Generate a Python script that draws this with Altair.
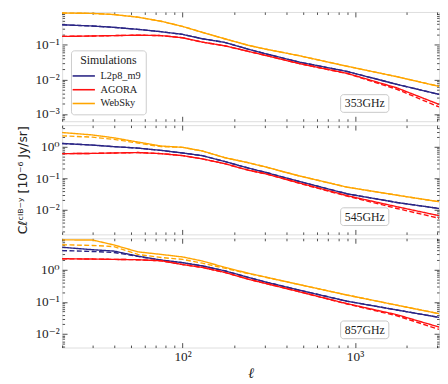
import altair as alt
import pandas as pd

# ---- data ----
ELL = [20, 30, 40, 55, 75, 100, 130, 175, 240, 300, 470, 900, 1750, 3072]
SIMS = ["L2p8_m9", "AGORA", "WebSky"]
COLORS = ["#2a2585", "#ff1010", "#ffa500"]
FREQS = ["353GHz", "545GHz", "857GHz"]

# 353 GHz
L2P8_353 = [0.38, 0.35, 0.32, 0.28, 0.24, 0.20, 0.15, 0.118, 0.075, 0.056, 0.032, 0.017, 0.0072, 0.0037]
AGORA_353 = [0.175, 0.18, 0.185, 0.19, 0.185, 0.16, 0.12, 0.094, 0.065, 0.05, 0.029, 0.015, 0.0057, 0.0019]
WEBSKY_353 = [0.83, 0.81, 0.75, 0.63, 0.48, 0.34, 0.23, 0.15, 0.097, 0.076, 0.049, 0.024, 0.012, 0.0063]
L2P8_353_D = L2P8_353
AGORA_353_D = [0.175, 0.18, 0.185, 0.19, 0.185, 0.16, 0.12, 0.094, 0.065, 0.05, 0.029, 0.0148, 0.0052, 0.0016]
WEBSKY_353_D = WEBSKY_353

# 545 GHz
L2P8_545 = [1.26, 1.12, 1.0, 0.9, 0.76, 0.63, 0.52, 0.34, 0.21, 0.155, 0.08, 0.032, 0.017, 0.011]
AGORA_545 = [0.6, 0.61, 0.63, 0.65, 0.6, 0.52, 0.41, 0.29, 0.18, 0.14, 0.072, 0.028, 0.0125, 0.0065]
WEBSKY_545 = [2.8, 2.35, 1.9, 1.4, 1.05, 0.95, 0.73, 0.45, 0.31, 0.23, 0.12, 0.052, 0.029, 0.018]
L2P8_545_D = L2P8_545
AGORA_545_D = [0.6, 0.61, 0.63, 0.65, 0.6, 0.52, 0.41, 0.29, 0.18, 0.14, 0.07, 0.027, 0.011, 0.0054]
WEBSKY_545_D = [2.2, 2.0, 1.7, 1.3, 1.0, 0.95, 0.73, 0.45, 0.31, 0.23, 0.12, 0.052, 0.029, 0.018]

# 857 GHz
L2P8_857 = [5.0, 4.2, 3.8, 2.65, 2.0, 1.66, 1.32, 0.93, 0.58, 0.42, 0.235, 0.105, 0.056, 0.033]
AGORA_857 = [2.2, 2.15, 2.1, 2.05, 1.9, 1.45, 1.18, 0.83, 0.51, 0.38, 0.21, 0.088, 0.04, 0.0165]
WEBSKY_857 = [8.5, 8.4, 5.9, 3.6, 3.0, 2.5, 1.87, 1.2, 0.78, 0.6, 0.35, 0.163, 0.079, 0.043]
L2P8_857_D = [3.95, 3.7, 3.45, 2.6, 2.0, 1.66, 1.32, 0.93, 0.58, 0.42, 0.235, 0.105, 0.056, 0.033]
AGORA_857_D = [2.2, 2.15, 2.1, 2.05, 1.9, 1.45, 1.18, 0.83, 0.51, 0.38, 0.21, 0.086, 0.037, 0.014]
WEBSKY_857_D = [6.0, 5.7, 5.25, 3.0, 2.4, 2.1, 1.6, 1.12, 0.76, 0.59, 0.35, 0.163, 0.079, 0.043]

Y_DOMAINS = {"353GHz": [6.2e-4, 0.89], "545GHz": [1.66e-3, 4.8], "857GHz": [3.8e-3, 9.5]}
X_DOMAIN = [20, 3072]

SERIES = {
    "353GHz": {"L2p8_m9": (L2P8_353, L2P8_353_D), "AGORA": (AGORA_353, AGORA_353_D), "WebSky": (WEBSKY_353, WEBSKY_353_D)},
    "545GHz": {"L2p8_m9": (L2P8_545, L2P8_545_D), "AGORA": (AGORA_545, AGORA_545_D), "WebSky": (WEBSKY_545, WEBSKY_545_D)},
    "857GHz": {"L2p8_m9": (L2P8_857, L2P8_857_D), "AGORA": (AGORA_857, AGORA_857_D), "WebSky": (WEBSKY_857, WEBSKY_857_D)},
}

rows = []
for f, sims in SERIES.items():
    for s, (solid, dashed) in sims.items():
        for kind, vals in (("a_solid", solid), ("b_dashed", dashed)):
            for l, v in zip(ELL, vals):
                rows.append({"freq": f, "sim": s, "kind": kind, "ell": l, "cl": v})
df = pd.DataFrame(rows)

SERIF = "Liberation Serif, DejaVu Serif, serif"
INK = "#222222"
W, H = 383, 111

def log_ticks(lo, hi):
    out = []
    for k in range(-5, 5):
        for m in range(1, 10):
            v = m * 10.0 ** k
            if lo <= v <= hi:
                out.append(float(f"{v:.6g}"))
    return out

E = "round(log(datum.value)/LN10)"
IS_MAJOR = f"abs(log(datum.value)/LN10 - {E}) < 0.001"
SUP = ("(" + E + " == -3 ? '⁻³' : " + E + " == -2 ? '⁻²' : " + E + " == -1 ? '⁻¹' : "
       + E + " == 0 ? '⁰' : " + E + " == 1 ? '¹' : " + E + " == 2 ? '²' : '³')")
LABEL_EXPR = f"({IS_MAJOR}) ? ('10' + {SUP}) : ''"
TICK_SIZE = {"expr": f"({IS_MAJOR}) ? -5 : -2.5"}
LABEL_SIZE = {"expr": f"({IS_MAJOR}) ? 13.5 : 0"}


def axis(orient, values, labels=True, title=None):
    kw = dict(orient=orient, values=values, grid=False, domain=False,
              tickSize=TICK_SIZE, tickColor=INK, tickWidth=0.8,
              labelOverlap=False, labelFlush=False)
    if labels:
        kw.update(labelExpr=LABEL_EXPR, labelFont=SERIF, labelFontSize=LABEL_SIZE,
                  labelColor=INK, labelPadding=8 if orient in ("left", "right") else 7)
    else:
        kw.update(labels=False, maxExtent=0, minExtent=0)
    if title and orient == "bottom":
        kw.update(title=title, titleFont=SERIF, titleFontSize=15, titleFontStyle="italic",
                  titleFontWeight="normal", titleColor=INK, titlePadding=3)
    elif title:
        kw.update(title=title, titleFont="DejaVu Sans", titleFontSize=12.5,
                  titleFontWeight="normal", titleColor=INK, titlePadding=6)
    else:
        kw.update(title=None)
    return alt.Axis(**kw)


legend = alt.Legend(orient="none", legendX=9, legendY=39, title="Simulations",
                    titleFont=SERIF, titleFontSize=12, titleFontWeight="normal",
                    titleColor=INK, titleAnchor="middle", titlePadding=1,
                    labelFont=SERIF, labelFontSize=10.5, labelColor=INK,
                    symbolType="M-1.6,0H1.6", symbolSize=200, symbolStrokeWidth=1.6,
                    rowPadding=0, padding=5, strokeColor="#cccccc", fillColor="white",
                    cornerRadius=3, labelOffset=9)

x_ticks = log_ticks(*X_DOMAIN)


def panel(freq, bottom=False, ytitle=None):
    ydom = Y_DOMAINS[freq]
    y_ticks = log_ticks(*ydom)
    base = alt.Chart(df[df.freq == freq])
    xs = alt.Scale(type="log", domain=X_DOMAIN, nice=False)
    ys = alt.Scale(type="log", domain=ydom, nice=False)
    lines = base.mark_line(strokeWidth=1.4, clip=True).encode(
        x=alt.X("ell:Q", scale=xs,
                axis=axis("bottom", x_ticks, labels=bottom, title="ℓ" if bottom else None)),
        y=alt.Y("cl:Q", scale=ys, axis=axis("left", y_ticks, title=ytitle)),
        color=alt.Color("sim:N", scale=alt.Scale(domain=SIMS, range=COLORS), legend=legend),
        strokeDash=alt.StrokeDash("kind:N", scale=alt.Scale(domain=["a_solid", "b_dashed"],
                                  range=[[1, 0], [5, 2.5]]), legend=None),
        order=alt.Order("ell:Q"),
    )
    ghost = base.mark_line(opacity=0).encode(
        x=alt.X("ell:Q", scale=xs, axis=axis("top", x_ticks, labels=False)),
        y=alt.Y("cl:Q", scale=ys, axis=axis("right", y_ticks, labels=False)),
        detail="sim:N",
    )
    lab = alt.Chart(pd.DataFrame({"label": [freq]}))
    box = lab.mark_rect(fill="white", stroke="#c8c8c8", strokeWidth=1, cornerRadius=3).encode(
        x=alt.value(283), x2=alt.value(332), y=alt.value(H - 27), y2=alt.value(H - 9))
    txt = lab.mark_text(font=SERIF, fontSize=12, color=INK, baseline="middle", align="center").encode(
        x=alt.value(307.5), y=alt.value(H - 18), text="label:N")
    return alt.layer(lines, ghost, box, txt).resolve_axis(
        x="independent", y="independent").properties(width=W, height=H)


chart = alt.vconcat(
    panel("353GHz"),
    panel("545GHz", ytitle="Cℓᶜᴵᴮ⁻ʸ [10⁻⁶ Jy/sr]"),
    panel("857GHz", bottom=True),
    spacing=2,
).properties(
    padding={"left": 7, "top": 0, "right": 0, "bottom": 0}
).configure_view(stroke=INK, strokeWidth=1).configure(background="white")

chart.save("out.html", embed_options={"renderer": "svg", "actions": False})
